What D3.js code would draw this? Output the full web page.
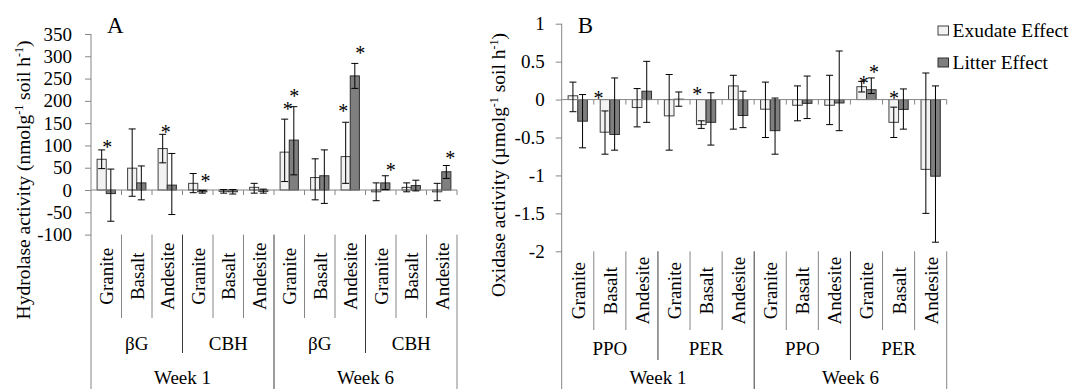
<!DOCTYPE html>
<html>
<head>
<meta charset="utf-8">
<script src="https://cdn.jsdelivr.net/npm/d3@7"></script>
<style>
  body{margin:0;background:#fff;}
  svg{display:block;}
</style>
</head>
<body>
<div id="chart"></div>
<script>
const rocks = ["Granite", "Basalt", "Andesite"];
const weeks = ["Week 1", "Week 6"];
const hydEnzymes = ["βG", "CBH"];
const oxEnzymes = ["PPO", "PER"];
const seriesNames = ["Exudate Effect", "Litter Effect"];

// panel A, hydrolase; order is week > enzyme > rock
const hydExudate   = [69, 49, 93, 15, -3, 6, 85, 28, 75, -4, 6, -4];
const hydExudateHi = [90, 137, 125, 37, 1, 15, 159, 70, 152, 16, 16, 15];
const hydExudateLo = [48, -14, 61, -6, -7, -7, 19, -22, 15, -24, -4, -24];
const hydLitter    = [-8, 16, 11, -4, -4, -3, 112, 32, 256, 16, 10, 41];
const hydLitterHi  = [47, 54, 82, -1, 1, 2, 187, 90, 284, 32, 22, 55];
const hydLitterLo  = [-70, -22, -55, -7, -9, -7, 34, -30, 228, 1, -2, 26];
const hydTicks = [-100, -50, 0, 50, 100, 150, 200, 250, 300, 350];
// stars: [category, offset from category centre in bar widths, value]
const hydStars = [[0, 0.1, 101], [2, -0.17, 136], [3, 0.84, 25], [6, -0.17, 188], [6, 0.55, 217],
                  [8, -0.77, 183], [8, 1.08, 312], [9, 1.1, 50], [11, 0.92, 77]];

// panel B, oxidase
const oxExudate   = [0.05, -0.43, -0.105, -0.215, -0.33, 0.18, -0.127, -0.075, -0.075, 0.17, -0.3, -0.92];
const oxExudateHi = [0.23, -0.15, 0.145, 0.33, -0.28, 0.32, 0.23, 0.18, 0.32, 0.24, -0.1, 0.35];
const oxExudateLo = [-0.16, -0.72, -0.36, -0.667, -0.38, -0.39, -0.5, -0.28, -0.33, 0.1, -0.5, -1.5];
const oxLitter    = [-0.285, -0.46, 0.11, 0.005, -0.3, -0.21, -0.41, -0.05, -0.045, 0.13, -0.13, -1.01];
const oxLitterHi  = [0.066, 0.285, 0.504, 0.1, 0.09, 0.11, 0.02, 0.31, 0.64, 0.285, 0.14, 0.18];
const oxLitterLo  = [-0.636, -0.667, -0.3, -0.088, -0.6, -0.37, -0.72, -0.25, -0.41, 0.08, -0.39, -1.88];
const oxTicks = [-2, -1.5, -1, -0.5, 0, 0.5, 1];
const oxStars = [[1, -1.17, 0.057], [4, -0.91, 0.11], [9, -0.29, 0.254], [9, 0.78, 0.4], [10, -0.48, 0.057]];

const font = "'Liberation Serif', 'Times New Roman', serif";
const axisGray = "#868686";
const fills = ["#f2f2f2", "#7f7f7f"];
const strokes = ["#404040", "#303030"];

const svg = d3.select("#chart").append("svg").attr("width", 1070).attr("height", 389);

const textAttr = (selection, size) => {
    selection.attr("font-family", font).attr("font-size", size).attr("fill", "#000");
};

const drawPanel = (p) => {
    const cats = [];
    weeks.forEach(w => p.enzymes.forEach(e => rocks.forEach(r => cats.push(w + "|" + e + "|" + r))));

    const x = d3.scaleBand().domain(cats).range([p.left, p.right]);
    const step = x.bandwidth();
    const bw = step * 0.3;
    const xs = d3.scaleBand().domain(seriesNames).range([step / 2 - bw, step / 2 + bw]);
    const y = d3.scaleLinear().domain(p.domain).range([p.bottom, p.top]);

    const g = svg.append("g");

    // y axis
    const yAxis = g.append("g").attr("transform", `translate(${p.left},0)`)
        .call(d3.axisLeft(y).tickValues(p.ticks).tickSize(6).tickSizeOuter(0).tickPadding(p.tickPad).tickFormat(d => String(d)));
    yAxis.select(".domain").remove();
    yAxis.selectAll(".tick line").attr("stroke", axisGray);
    yAxis.selectAll(".tick text").call(textAttr, 19);
    g.append("line").attr("x1", p.left).attr("x2", p.left).attr("y1", p.top).attr("y2", 389).attr("stroke", axisGray);

    // bars
    const series = [
        {name: seriesNames[0], v: p.exudate, hi: p.exudateHi, lo: p.exudateLo},
        {name: seriesNames[1], v: p.litter, hi: p.litterHi, lo: p.litterLo}
    ];
    series.forEach((s, si) => {
        const data = cats.map((c, i) => ({c, v: s.v[i], hi: s.hi[i], lo: s.lo[i]}));
        g.append("g").selectAll("rect").data(data).enter().append("rect")
            .attr("x", d => x(d.c) + xs(s.name))
            .attr("width", xs.bandwidth())
            .attr("y", d => y(Math.max(0, d.v)))
            .attr("height", d => Math.abs(y(d.v) - y(0)))
            .attr("fill", fills[si]).attr("stroke", strokes[si]).attr("stroke-width", 1);
        s.data = data;
    });

    // x axis at zero
    g.append("line").attr("x1", p.left).attr("x2", p.right).attr("y1", y(0)).attr("y2", y(0)).attr("stroke", axisGray);
    const bounds = cats.map(c => x(c)).concat([p.right]);
    g.append("g").selectAll("line").data(bounds.slice(1)).enter().append("line")
        .attr("x1", d => d).attr("x2", d => d).attr("y1", y(0)).attr("y2", y(0) + 5).attr("stroke", axisGray);

    // error bars
    series.forEach((s) => {
        const eg = g.append("g").attr("stroke", "#000").attr("stroke-width", 1);
        const cx = d => x(d.c) + xs(s.name) + xs.bandwidth() / 2;
        eg.selectAll("line.v").data(s.data).enter().append("line").attr("class", "v")
            .attr("x1", cx).attr("x2", cx).attr("y1", d => y(d.hi)).attr("y2", d => y(d.lo));
        ["hi", "lo"].forEach(k => {
            eg.selectAll("line." + k).data(s.data).enter().append("line").attr("class", k)
                .attr("x1", d => cx(d) - 3.5).attr("x2", d => cx(d) + 3.5)
                .attr("y1", d => y(d[k])).attr("y2", d => y(d[k]));
        });
    });

    // significance stars
    g.append("g").selectAll("text").data(p.stars).enter().append("text")
        .attr("x", d => x(cats[d[0]]) + step / 2 + d[1] * bw)
        .attr("y", d => y(d[2]) + 9.5)
        .attr("text-anchor", "middle").text("*").call(textAttr, 20);

    // category label area
    bounds.forEach((bx, i) => {
        if (i === 0) return;
        let y2 = p.band1;
        if (i % 6 === 0) y2 = 389;
        else if (i % 3 === 0) y2 = p.band2;
        g.append("line").attr("x1", bx).attr("x2", bx).attr("y1", p.bottom).attr("y2", y2)
            .attr("stroke", (i % 3 === 0 && i !== 12) ? "#3a3a3a" : axisGray);
    });
    const bandMid = (p.bottom + p.band1) / 2;
    g.append("g").selectAll("text").data(cats).enter().append("text")
        .attr("transform", c => `translate(${x(c) + step / 2 + 7},${bandMid}) rotate(-90)`)
        .attr("text-anchor", "middle").text(c => c.split("|")[2]).call(textAttr, 19);

    const groups = [];
    weeks.forEach((w, wi) => p.enzymes.forEach((e, ei) => groups.push({e, i: wi * 2 + ei})));
    g.append("g").selectAll("text").data(groups).enter().append("text")
        .attr("x", d => x(cats[d.i * 3]) + step * 1.5).attr("y", p.lvl2Base)
        .attr("text-anchor", "middle").text(d => d.e).call(textAttr, 19);
    g.append("g").selectAll("text").data(weeks).enter().append("text")
        .attr("x", (d, i) => x(cats[i * 6]) + step * 3).attr("y", p.weekBase)
        .attr("text-anchor", "middle").text(d => d).call(textAttr, 19);

    // panel letter
    g.append("text").attr("x", p.letterX).attr("y", 33).text(p.letter).call(textAttr, 23);

    // y title
    const t = g.append("text").attr("transform", `translate(${p.yTitleX},${p.yTitleY}) rotate(-90)`)
        .attr("text-anchor", "middle").call(textAttr, 19.5);
    t.append("tspan").text(p.yTitle[0]);
    t.append("tspan").attr("font-size", 12).attr("dy", -7).text("-1");
    t.append("tspan").attr("dy", 7).text(" soil h");
    t.append("tspan").attr("font-size", 12).attr("dy", -7).text("-1");
    t.append("tspan").attr("dy", 7).text(")");
};

drawPanel({
    enzymes: hydEnzymes, left: 91, right: 457, top: 34, bottom: 234.6, domain: [-100, 350], ticks: hydTicks, tickPad: 13,
    exudate: hydExudate, exudateHi: hydExudateHi, exudateLo: hydExudateLo,
    litter: hydLitter, litterHi: hydLitterHi, litterLo: hydLitterLo, stars: hydStars,
    band1: 318, band2: 353, lvl2Base: 350, weekBase: 384,
    letter: "A", letterX: 107, yTitle: ["Hydrolase activity (nmolg"], yTitleX: 30, yTitleY: 180
});

drawPanel({
    enzymes: oxEnzymes, left: 561.7, right: 946.7, top: 23.7, bottom: 251.3, domain: [-2, 1], ticks: oxTicks, tickPad: 11,
    exudate: oxExudate, exudateHi: oxExudateHi, exudateLo: oxExudateLo,
    litter: oxLitter, litterHi: oxLitterHi, litterLo: oxLitterLo, stars: oxStars,
    band1: 330, band2: 360, lvl2Base: 355, weekBase: 384,
    letter: "B", letterX: 577.7, yTitle: ["Oxidase activity (µmolg"], yTitleX: 505, yTitleY: 165
});

// legend
const legend = svg.append("g").selectAll("g").data(seriesNames).enter().append("g")
    .attr("transform", (d, i) => `translate(938,${26 + i * 32})`);
legend.append("rect").attr("width", 10.5).attr("height", 9)
    .attr("fill", (d, i) => fills[i]).attr("stroke", (d, i) => strokes[i]);
legend.append("text").attr("x", 14.5).attr("y", 11).text(d => d).call(textAttr, 19.5);
</script>
</body>
</html>
